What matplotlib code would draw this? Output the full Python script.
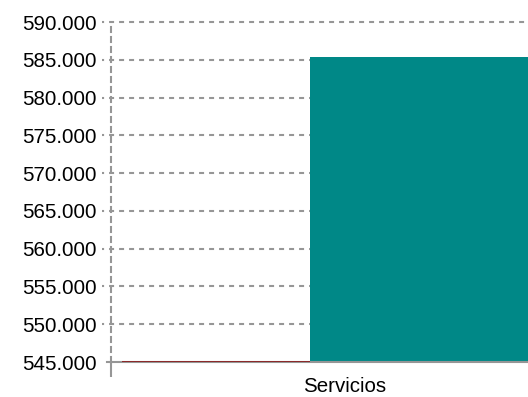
from matplotlib import pyplot as plt
from matplotlib.ticker import FuncFormatter
import numpy as np

# Chart data
categories = ['Servicios']
series_a = [545150]   # thin maroon bar, barely above the axis floor
series_b = [585350]   # teal bar
y_ticks = [545000, 550000, 555000, 560000, 565000, 570000, 575000, 580000, 585000, 590000]

plt.rcParams['font.family'] = ['Liberation Sans', 'DejaVu Sans']

fig = plt.figure(figsize=(5.28, 3.97), dpi=100)
ax = fig.add_axes([111/528, 35/397, 417/528, 340/397])

grid_color = '#969696'
x = np.arange(len(categories))

# Bars placed around the category center
ax.bar(x - 1.186, np.array(series_a) - 545000, width=1.0, bottom=545000,
       align='edge', color='#8b2a2a', zorder=5)
ax.bar(x - 0.186, np.array(series_b) - 545000, width=1.4, bottom=545000,
       align='edge', color='#008887', zorder=3)

ax.set_ylim(545000, 590000)
ax.set_xlim(-1.245, 0.973)
ax.set_yticks(y_ticks)
ax.yaxis.set_major_formatter(FuncFormatter(lambda v, p: f"{int(v):,}".replace(',', '.')))
ax.set_xticks(x)
ax.set_xticklabels(categories)

# Dashed horizontal grid, running a bit left of the axis
for v in y_ticks[1:]:
    ax.plot([-9/417, 1], [v, v], transform=ax.get_yaxis_transform(),
            color=grid_color, lw=1.5, ls=(1.4, (2.4, 2.4)), clip_on=False, zorder=1)
# short stub of the floor line left of the axis
ax.plot([-4/417, 0], [y_ticks[0]] * 2, transform=ax.get_yaxis_transform(),
        color=grid_color, lw=1.5, clip_on=False, zorder=4)

for s in ['top', 'right']:
    ax.spines[s].set_visible(False)
ax.spines['left'].set_color(grid_color)
ax.spines['left'].set_linewidth(1.5)
ax.spines['left'].set_linestyle((0, (2.4, 2.4)))
ax.spines['bottom'].set_color(grid_color)
ax.spines['bottom'].set_linewidth(1.5)
ax.spines['bottom'].set_zorder(4)

ax.tick_params(axis='y', length=0, pad=10, labelsize=14.8, labelcolor='black')
ax.tick_params(axis='x', which='major', length=0, pad=11, labelsize=14.8, labelcolor='black')

# tick mark under the left end of the axis
ax.set_xticks([-1.245], minor=True)
ax.tick_params(axis='x', which='minor', length=11, width=1.5, color=grid_color)

plt.savefig('out.png', dpi=100)
